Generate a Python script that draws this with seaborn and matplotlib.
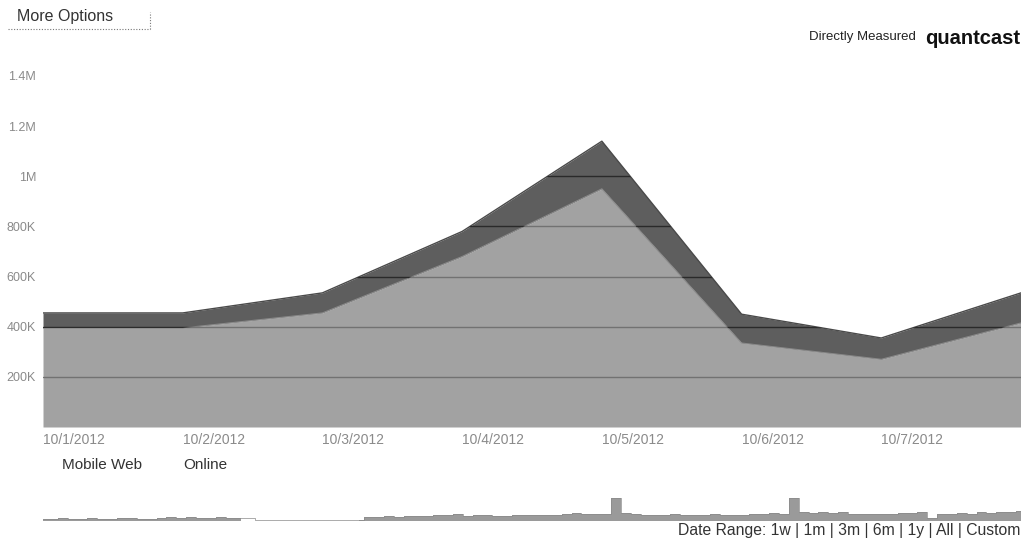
import numpy as np
import pandas as pd
import matplotlib
matplotlib.use("Agg")
import matplotlib.pyplot as plt
import seaborn as sns

# ---- data ----
dates = ["10/1/2012", "10/2/2012", "10/3/2012", "10/4/2012",
         "10/5/2012", "10/6/2012", "10/7/2012", "10/8/2012"]
online = [395, 395, 455, 680, 950, 335, 270, 415]          # thousands
mobile_web = [60, 60, 80, 100, 190, 115, 85, 120]            # thousands
y_ticks = [200, 400, 600, 800, 1000, 1200, 1400]
y_tick_labels = ["200K", "400K", "600K", "800K", "1M", "1.2M", "1.4M"]
x_tick_labels = dates[:7]
legend_labels = ["Mobile Web", "Online"]
date_range_text = "Date Range: 1w | 1m | 3m | 6m | 1y | All | Custom"

# overview strip (relative traffic, estimated)
overview = [2, 2, 3, 2, 2, 3, 2, 2, 3, 3, 2, 2, 3, 4, 3, 4, 3, 3, 4, 3, 3,
            np.nan, np.nan, 1, np.nan, np.nan, np.nan, 1, np.nan, np.nan, 1, np.nan, 1,
            4, 4, 5, 4, 5, 5, 5, 6, 6, 7, 5, 6, 6, 5, 5, 6, 6, 6, 6, 6, 7, 8, 7, 7, 7, 22,
            8, 7, 6, 6, 6, 7, 6, 6, 6, 7, 6, 6, 6, 7, 7, 8, 7, 22, 9, 8, 9, 8, 9, 7, 7,
            7, 7, 7, 8, 8, 9, 3, 7, 7, 8, 7, 9, 8, 9, 9, 10]

df = pd.DataFrame({"day": np.arange(len(dates)),
                   "online": online,
                   "total": np.array(online) + np.array(mobile_web)})

sns.set_theme(style="white")
plt.rcParams["font.family"] = ["Liberation Sans", "DejaVu Sans"]

W, H = 1021, 545
fig = plt.figure(figsize=(W / 100, H / 100), dpi=100)

def rect(x0, y0, x1, y1):
    return [x0 / W, 1 - y1 / H, (x1 - x0) / W, (y1 - y0) / H]

ax = fig.add_axes(rect(43, 76, 1021, 427))
online_col = "#a2a2a2"
mobile_col = "#5e5e5e"

poly_tot = ax.fill_between(df["day"], df["online"], df["total"], color=mobile_col, lw=0, zorder=1)
poly_on = ax.fill_between(df["day"], 0, df["online"], color=online_col, lw=0, zorder=1)
sns.lineplot(x="day", y="total", data=df, ax=ax, color="#4a4a4a", lw=1.0, zorder=2)
sns.lineplot(x="day", y="online", data=df, ax=ax, color="#8a8a8a", lw=0.8, zorder=2)

# grid lines visible only inside the filled areas
for yv in y_ticks:
    for poly, c in ((poly_on, "#727272"), (poly_tot, "#2a2a2a")):
        ln = ax.axhline(yv, color=c, lw=1.0, zorder=3)
        ln.set_clip_path(poly.get_paths()[0], ax.transData)

ax.set_xlim(0, len(dates) - 1)
ax.set_ylim(0, 1400)
ax.set_yticks(y_ticks)
ax.set_yticklabels(y_tick_labels)
ax.set_xticks(np.arange(len(x_tick_labels)))
ax.set_xticklabels(x_tick_labels, ha="left")
ax.tick_params(axis="x", labelsize=10, colors="#8a8a8a", length=0, pad=4)
ax.tick_params(axis="y", labelsize=9, colors="#8a8a8a", length=0, pad=5)
ax.set_xlabel("")
ax.set_ylabel("")
for s in ax.spines.values():
    s.set_visible(False)

# legend (text only)
fig.text(62 / W, 1 - 465 / H, legend_labels[0], fontsize=11, color="#333333", va="center")
fig.text(183 / W, 1 - 465 / H, legend_labels[1], fontsize=11, color="#333333", va="center")

# header
fig.text(17 / W, 1 - 16 / H, "More Options", fontsize=11.5, color="#333333", va="center")
fig.add_artist(plt.Line2D([8 / W, 150 / W], [1 - 29 / H, 1 - 29 / H],
                          color="#777777", lw=0.8, ls=(0, (1, 1.5))))
fig.add_artist(plt.Line2D([150 / W, 150 / W], [1 - 29 / H, 1 - 12 / H],
                          color="#777777", lw=0.8, ls=(0, (1, 1.5))))
fig.text(916 / W, 1 - 37 / H, "Directly Measured", fontsize=9.5, color="#222222",
         va="center", ha="right")
fig.text(1020 / W, 1 - 38 / H, "quantcast", fontsize=14.5, fontweight="bold",
         color="#111111", va="center", ha="right")

# overview strip
ax2 = fig.add_axes(rect(43, 495, 1021, 521))
ov = pd.DataFrame({"i": np.arange(len(overview)), "v": overview})
ax2.fill_between(ov["i"], 0, ov["v"], color="#9a9a9a", lw=0, step="mid")
sns.lineplot(x="i", y="v", data=ov, ax=ax2, color="#8a8a8a", lw=0.5, drawstyle="steps-mid")
ax2.set_xlim(0, len(overview) - 1)
ax2.set_ylim(0, 25)
ax2.set_axis_off()

fig.text(1020 / W, 1 - 531 / H, date_range_text, fontsize=11.3, color="#333333",
         va="center", ha="right")

fig.savefig("out.png", dpi=100)
